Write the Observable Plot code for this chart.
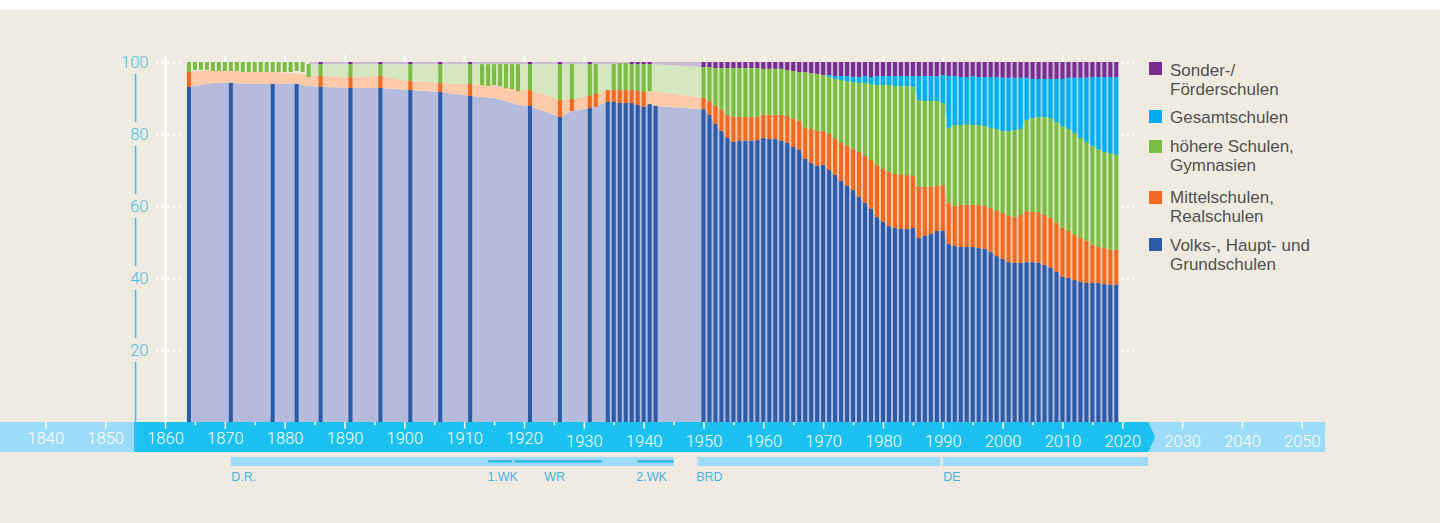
<!DOCTYPE html>
<html><head><meta charset="utf-8">
<script src="https://cdn.jsdelivr.net/npm/d3@7"></script>
<script src="https://cdn.jsdelivr.net/npm/@observablehq/plot@0.6"></script>
<style>
html,body{margin:0;padding:0;background:#fff;}
#wrap{position:relative;width:1440px;height:523px;overflow:hidden;}
#bg{position:absolute;left:0;top:10px;width:1440px;height:513px;background:#F0EBE1;}
#chart{position:absolute;left:0;top:0;}
#legend{position:absolute;left:0;top:0;font-family:"Liberation Sans",Arial,sans-serif;font-size:17px;line-height:19px;color:#505050;}
.item{position:absolute;left:1149px;}
.sw{position:absolute;left:0;width:13px;height:13px;}
.lab{position:absolute;left:21px;top:0;white-space:nowrap;}
</style></head>
<body><div id="wrap"><div id="bg"></div><div id="chart"></div><div id="legend"></div></div>
<script>
// ---------- Data (percent of pupils by school type) ----------
const earlyYears = [1864,1865,1866,1867,1868,1869,1870,1871,1872,1873,1874,1875,1876,1877,1878,1879,1880,1881,1882,1883,1884,
  1886,1891,1896,1901,1906,1911,1913,1914,1915,1916,1917,1918,1919,1921,1926,1928,1931,1932,
  1934,1935,1936,1937,1938,1939,1940,1941,1942];
const earlyVolks = [93.1,null,null,null,null,null,null,94.2,null,null,null,null,null,null,93.9,null,null,null,93.9,null,null,
  93.1,92.8,92.8,92.2,91.7,90.6,null,null,null,null,null,null,null,87.8,84.7,null,87.2,null,
  88.9,88.9,88.6,88.6,88.6,88.1,87.5,88.3,87.8];
const earlyMittel = [4.1,null,null,null,null,null,null,null,null,null,null,null,null,null,null,null,null,null,null,null,null,
  3.0,3.0,3.3,2.5,2.5,3.3,null,null,null,null,null,null,null,4.4,4.7,3.3,3.4,3.6,
  3.3,3.3,3.6,3.6,3.6,3.8,4.2,null,null];
const earlyHoehere = [2.8,2.2,2.2,2.2,2.5,2.5,2.5,2.5,2.5,2.8,2.8,2.8,2.8,2.8,2.8,2.8,2.8,2.8,2.5,2.8,3.6,
  3.3,3.6,3.3,4.7,5.2,5.5,5.8,6.1,5.8,6.1,6.7,6.9,7.5,7.2,10.0,9.7,8.8,8.3,
  null,7.2,7.5,7.5,7.2,7.5,7.7,7.5,null];
const earlySonder = [null,null,null,null,null,null,null,null,null,null,null,null,null,null,null,null,null,null,null,null,null,
  0.6,0.6,0.6,0.6,0.6,0.6,null,null,null,null,null,null,null,0.6,0.6,null,0.6,null,
  null,null,null,null,0.6,0.6,0.6,0.6,null];

const modernYears = d3.range(1950, 2020);
const modernVolks = [86.9,85.3,82.8,80.8,78.9,77.8,78.1,78.1,78.1,78.3,
  78.9,78.6,78.6,78.1,77.5,76.4,75.6,73.1,71.9,71.1,
  71.4,70.0,68.6,66.9,65.6,64.4,62.5,60.8,59.2,56.9,
  55.6,54.4,53.9,53.6,53.6,53.9,51.1,51.7,52.2,53.1,
  53.1,49.4,48.9,48.6,48.6,48.6,48.3,48.1,47.2,46.1,
  45.3,44.4,44.2,44.2,44.4,44.4,44.2,43.6,42.8,41.7,
  40.3,40.0,39.4,38.9,38.6,38.6,38.6,38.3,38.1,38.1];
const modernMittel = [3.1,3.9,5.0,5.9,6.4,6.9,6.6,6.6,6.6,6.4,
  6.4,6.7,6.7,7.2,7.5,7.8,8.0,8.6,9.5,9.7,
  9.4,10.0,10.0,10.6,11.1,11.4,12.5,13.1,13.6,14.5,
  14.7,15.0,15.0,15.0,15.0,14.4,14.2,13.6,13.1,12.5,
  12.7,11.4,11.1,11.7,11.7,11.7,12.0,11.9,12.2,12.5,
  12.8,12.8,12.7,13.3,14.2,13.9,14.1,13.9,13.9,13.6,
  13.6,13.1,12.5,12.2,11.7,10.6,10.0,10.0,9.7,9.7];
const modernHoehere = [8.6,9.4,10.5,11.6,13.0,13.6,13.6,13.6,13.6,13.6,
  12.8,12.8,12.8,12.8,12.8,13.3,13.6,15.5,15.5,15.9,
  15.6,15.8,16.7,17.5,18.0,18.6,19.2,20.3,21.1,22.2,
  23.3,24.2,24.4,24.7,24.7,24.8,24.1,23.9,23.9,23.6,
  22.8,20.9,22.5,22.2,22.5,22.2,22.2,22.2,22.3,22.8,
  22.7,23.6,24.2,23.9,25.3,26.1,26.4,27.2,27.7,28.0,
  28.3,28.3,28.4,27.8,27.5,27.5,27.2,26.7,26.9,26.4];
const modernGesamt = [0,0,0,0,0,0,0,0,0,0,
  0,0,0,0,0,0,0,0,0,0,
  0,0.6,0.8,1.1,1.4,1.4,1.6,1.9,1.9,2.5,
  2.5,2.5,2.8,2.8,2.8,3.0,6.7,6.9,6.9,6.9,
  7.8,14.4,13.6,13.3,13.0,13.6,13.3,13.6,14.1,14.4,
  14.8,14.8,14.5,14.2,11.7,10.9,10.6,10.6,10.9,12.0,
  13.1,14.2,15.3,16.7,17.8,19.1,20.0,20.8,21.1,21.6];
const modernSonder = [1.4,1.4,1.7,1.7,1.7,1.7,1.7,1.7,1.7,1.7,
  1.9,1.9,1.9,1.9,2.2,2.5,2.8,2.8,3.1,3.3,
  3.6,3.6,3.9,3.9,3.9,4.2,4.2,3.9,4.2,3.9,
  3.9,3.9,3.9,3.9,3.9,3.9,3.9,3.9,3.9,3.9,
  3.6,3.9,3.9,4.2,4.2,3.9,4.2,4.2,4.2,4.2,
  4.4,4.4,4.4,4.4,4.4,4.7,4.7,4.7,4.7,4.7,
  4.7,4.4,4.4,4.4,4.4,4.2,4.2,4.2,4.2,4.2];

// shaded (estimated) background trend before 1950
const areaYears  = [1864,1866,1868,1871,1875,1878,1882,1884,1886,1891,1896,1901,1906,1911,1913,1915,1917,1919,1921,1924,1926,1928,1931,1932,1934,1938,1939,1940,1941,1942];
const areaVolks  = [93.1,93.6,94.2,94.2,93.9,93.9,93.9,93.4,93.1,92.8,92.8,92.2,91.7,90.6,90.3,90.0,89.2,88.1,87.8,86.0,84.7,86.4,87.2,87.8,88.9,88.6,88.1,87.5,88.3,87.8];
const areaMittel = [4.1,3.9,3.6,3.3,3.3,3.3,3.0,3.0,3.0,3.0,3.3,2.5,2.5,3.3,3.3,3.6,3.9,4.1,4.4,4.6,4.7,3.3,3.4,3.6,3.3,3.6,3.8,4.2,3.6,4.1];
const areaSonder = [null,null,null,null,null,null,null,0.6,0.6,0.6,0.6,0.6,0.6,0.6,0.6,0.6,0.6,0.6,0.6,0.6,0.6,0.6,0.6,0.6,0.6,0.6,0.6,0.6,0.6,0.6];

const keys = ["sonder","gesamt","hoehere","mittel","volks"];
const legendLabels = ["Sonder-/\nFörderschulen","Gesamtschulen","höhere Schulen,\nGymnasien","Mittelschulen,\nRealschulen","Volks-, Haupt- und\nGrundschulen"];
const yTicks = [20,40,60,80,100];
const xLabelYears = d3.range(1840, 2051, 10);
const periods = ["D.R.","BRD","DE"];
const periodStart = [1871,1949,1990];
const periodEnd = [1945,1989.6,2024.3];
const periodLabelAt = [1871,1948.7,1990];
const wars = ["1.WK","WR","2.WK"];
const warStart = [1914,1918.4,1939];
const warEnd = [1918,1933,1945];
const warLabelAt = [1913.8,1923.3,1938.7];

// ---------- Styles ----------
const dark = {volks:"#2B5CA9", mittel:"#F26A21", hoehere:"#7BBD42", gesamt:"#00AEEF", sonder:"#782D8F"};
const light = {volks:"#B4BBDD", mittel:"#FDCBAA", hoehere:"#D4E7C0", gesamt:"#8ED7F5", sonder:"#CDBAD9"};
const axisBlue = "#45BDEB";

// ---------- Build rows ----------
const bars = earlyYears.map((yr,i)=>({yr, V:earlyVolks[i], M:earlyMittel[i], H:earlyHoehere[i], G:0, S:earlySonder[i]}))
  .concat(modernYears.map((yr,i)=>({yr, V:modernVolks[i], M:modernMittel[i], H:modernHoehere[i], G:modernGesamt[i], S:modernSonder[i]})));

const sYears = areaYears.filter((y,i)=>areaSonder[i]!=null);
const sVals = areaSonder.filter(v=>v!=null);
const sonderAt = yr => yr < sYears[0] ? 0 : d3.scaleLinear().domain(sYears).range(sVals).clamp(true)(yr);

const segs = [];
for (const b of bars) {
  const top = 100 - (b.S ?? sonderAt(b.yr));
  const G = b.G || 0;
  if (b.V != null) segs.push({yr:b.yr, k:"volks", y1:0, y2:b.V});
  let hLo = null, hHi = top - G;
  if (b.H != null) {
    if (b.V != null && b.M != null) { hLo = b.V + b.M; hHi = hLo + b.H; }
    else { hHi = top - G; hLo = hHi - b.H; }
    segs.push({yr:b.yr, k:"hoehere", y1:hLo, y2:hHi});
  }
  if (b.M != null) {
    if (b.V != null) segs.push({yr:b.yr, k:"mittel", y1:b.V, y2:b.V + b.M});
    else segs.push({yr:b.yr, k:"mittel", y1:hLo - b.M, y2:hLo});
  }
  if (G > 0) segs.push({yr:b.yr, k:"gesamt", y1:hHi, y2:hHi + G});
  if (b.S != null) segs.push({yr:b.yr, k:"sonder", y1:100 - b.S, y2:100});
}

const areaRows = areaYears.map((yr,i)=>({yr, V:areaVolks[i], M:areaMittel[i], G:0, S:areaSonder[i]}))
  .concat(bars.filter(b=>b.yr>=1950).map(b=>({yr:b.yr, V:b.V, M:b.M, G:b.G, S:b.S})));
const withS = areaRows.filter(r=>r.S!=null);

const half = 0.335;
const bandBottom = -8.33;

const marks = [
  // background shaded trend
  Plot.areaY(areaRows, {x:"yr", y1:0, y2:"V", fill:light.volks}),
  Plot.areaY(areaRows, {x:"yr", y1:"V", y2:d=>d.V+d.M, fill:light.mittel}),
  Plot.areaY(withS, {x:"yr", y1:d=>d.V+d.M, y2:d=>100-d.S-d.G, fill:light.hoehere}),
  Plot.areaY(withS, {x:"yr", y1:d=>100-d.S-d.G, y2:d=>100-d.S, fill:light.gesamt}),
  Plot.areaY(withS, {x:"yr", y1:d=>100-d.S, y2:100, fill:light.sonder}),
  // bars
  ...keys.map(k=>Plot.rect(segs.filter(s=>s.k===k), {x1:d=>d.yr-half, x2:d=>d.yr+half, y1:"y1", y2:"y2", fill:dark[k]})),
  // white guides
  Plot.ruleX([1860], {y1:-1.86, y2:101.9, stroke:"white", strokeWidth:2}),
  Plot.ruleX(d3.range(1870, 2020, 10), {y1:100, y2:101.9, stroke:"white", strokeWidth:2}),
  Plot.ruleY(yTicks, {x1:1858.71, x2:1862.55, stroke:"white", strokeWidth:2.6, strokeDasharray:"0 5.67", strokeLinecap:"round"}),
  Plot.ruleY(yTicks, {x1:2020, x2:2021.9, stroke:"white", strokeWidth:2.6, strokeDasharray:"0 5.5", strokeLinecap:"round"}),
  // time axis band
  Plot.rect([0], {x1:1830, x2:2053.9, y1:bandBottom, y2:0, fill:"#9CDCF8"}),
  Plot.areaY([{x:1854.82,a:bandBottom,b:0},{x:2024.35,a:bandBottom,b:0},{x:2025.47,a:bandBottom/2,b:bandBottom/2}], {x:"x", y1:"a", y2:"b", fill:"#1BC1F1"}),
  Plot.ruleX(d3.range(1840, 2051, 10), {y1:0, y2:-1.86, stroke:"white", strokeWidth:1.5}),
  Plot.ruleX(d3.range(1865, 2016, 10), {y1:0, y2:-0.9, stroke:"white", strokeWidth:1.5}),
  Plot.text(xLabelYears, {x:d=>d, y:d=>d<1930?-4.6:-5.45, text:d=>String(d), fill:"white", fontSize:16.5, fontFamily:"Roboto, 'Liberation Sans', sans-serif", fontWeight:300}),
  // y axis
  Plot.ruleX(yTicks.map((t,i)=>({lo: i===0 ? bandBottom : yTicks[i-1]+3.3, hi: t-3.3})), {x:1855, y1:"lo", y2:"hi", stroke:axisBlue, strokeWidth:1.6}),
  Plot.axisY(yTicks, {tickSize:0, tickPadding:17, fontSize:16.5, fill:axisBlue, fontFamily:"Roboto, 'Liberation Sans', sans-serif", fontWeight:300, label:null}),
  // historical periods
  Plot.rect(periods, {x1:(d,i)=>periodStart[i], x2:(d,i)=>periodEnd[i], y1:-9.72, y2:-12.2, fill:"#9CDCF8"}),
  Plot.ruleY(wars, {x1:(d,i)=>warStart[i], x2:(d,i)=>warEnd[i], y:-10.8, stroke:"#2DB3E8", strokeWidth:2.2}),
  Plot.text(periods, {x:(d,i)=>periodLabelAt[i], y:-15.1, text:d=>d, textAnchor:"start", fill:"#45B4E6", fontSize:12.5, fontFamily:"'Liberation Sans', Arial, sans-serif"}),
  Plot.text(wars, {x:(d,i)=>warLabelAt[i], y:-15.1, text:d=>d, textAnchor:"start", fill:"#45B4E6", fontSize:12.5, fontFamily:"'Liberation Sans', Arial, sans-serif"})
];

const plot = Plot.plot({
  width:1440, height:523,
  marginLeft:165, marginRight:138.2, marginTop:62, marginBottom:101,
  x:{domain:[1860,2050], axis:null},
  y:{domain:[0,100], axis:null},
  style:{background:"transparent", overflow:"visible", fontFamily:"'Liberation Sans', Arial, sans-serif", fontSize:"16.5px"},
  marks
});
document.getElementById("chart").appendChild(plot);

// ---------- Legend ----------
const legendSq = [62,110,140,191,238];
const legendCap = [64.5,111,140.5,191,239];
const leg = document.getElementById("legend");
keys.forEach((k,i)=>{
  const lineTop = legendCap[i] - 3.2;
  const item = document.createElement("div");
  item.className = "item";
  item.style.top = lineTop + "px";
  const sw = document.createElement("div");
  sw.className = "sw";
  sw.style.background = dark[k];
  sw.style.top = (legendSq[i] - lineTop) + "px";
  const lab = document.createElement("div");
  lab.className = "lab";
  lab.innerHTML = legendLabels[i].split("\n").join("<br>");
  item.appendChild(sw); item.appendChild(lab);
  leg.appendChild(item);
});
</script></body></html>
